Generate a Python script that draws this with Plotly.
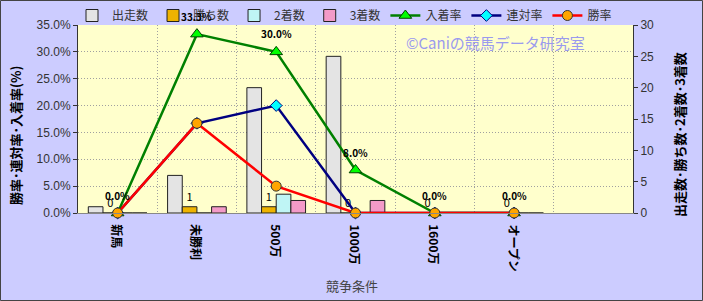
import plotly.graph_objects as go

categories = ['新馬', '未勝利', '500万', '1000万', '1600万', 'オープン']
runs = [1, 6, 20, 25, 0, 0]
wins = [0, 1, 1, 0, 0, 0]
seconds = [0, 0, 3, 0, 0, 0]
thirds = [0, 1, 2, 2, 0, 0]
place_rate = [0.0, 33.3, 30.0, 8.0, 0.0, 0.0]
rentai_rate = [0.0, 16.7, 20.0, 0.0, 0.0, 0.0]
win_rate = [0.0, 16.7, 5.0, 0.0, 0.0, 0.0]

FONT = "Noto Sans CJK JP"
W, H = 703, 301
ML, MR, MT, MB = 78, 70, 25, 88
PW, PH = W - ML - MR, H - MT - MB

fig = go.Figure()
bar_line = dict(color='#222222', width=1)
fig.add_trace(go.Bar(x=categories, y=runs, name='出走数', marker=dict(color='#E4E4E4', line=bar_line), yaxis='y'))
fig.add_trace(go.Bar(x=categories, y=wins, name='勝ち数', marker=dict(color='#EEB300', line=bar_line), yaxis='y',
                     text=[str(v) for v in wins], textposition='outside', cliponaxis=False,
                     textfont=dict(family=FONT, size=11, color='#000000')))
fig.add_trace(go.Bar(x=categories, y=seconds, name='2着数', marker=dict(color='#BFF5F5', line=bar_line), yaxis='y'))
fig.add_trace(go.Bar(x=categories, y=thirds, name='3着数', marker=dict(color='#F39AC8', line=bar_line), yaxis='y'))

fig.add_trace(go.Scatter(x=categories, y=place_rate, name='入着率', mode='lines+markers', yaxis='y2',
                         line=dict(color='#008000', width=2.5),
                         marker=dict(symbol='triangle-up', size=11, color='#00FF00', line=dict(color='#004000', width=1)),
                         cliponaxis=False))
fig.add_trace(go.Scatter(x=categories, y=rentai_rate, name='連対率', mode='lines+markers', yaxis='y2',
                         line=dict(color='#000080', width=2.5),
                         marker=dict(symbol='diamond', size=9, color='#00FFFF', line=dict(color='#000080', width=1)),
                         cliponaxis=False))
fig.add_trace(go.Scatter(x=categories, y=win_rate, name='勝率', mode='lines+markers', yaxis='y2',
                         line=dict(color='#FF0000', width=2.5),
                         marker=dict(symbol='circle', size=10, color='#FFA500', line=dict(color='#333333', width=1)),
                         cliponaxis=False))

fig.update_layout(
    width=W, height=H,
    margin=dict(l=ML, r=MR, t=MT, b=MB, autoexpand=False),
    paper_bgcolor='#CCCCFF', plot_bgcolor='#FFFFCC',
    font=dict(family=FONT, size=12, color='#333333'),
    barmode='group', bargap=0.26, bargroupgap=0,
    showlegend=True,
    legend=dict(orientation='h', x=(72 - ML) / PW, xanchor='left', y=1 + (MT - 1) / PH, yanchor='top',
                bgcolor='rgba(0,0,0,0)', font=dict(family=FONT, size=12, color='#333333'),
                itemwidth=30, tracegroupgap=0, traceorder='normal'),
    xaxis=dict(type='category', range=[-0.5, 6.5], tickson='boundaries', showticklabels=False,
               showgrid=True, gridcolor='#A0A0A0', griddash='1px,2px', gridwidth=1,
               ticks='', showline=True, linecolor='#888888', linewidth=1, automargin=False),
    yaxis=dict(side='right', range=[0, 30], dtick=5, showgrid=False, zeroline=False,
               ticks='outside', ticklen=4, tickcolor='#333333', showline=True, linecolor='#333333', linewidth=1,
               tickfont=dict(family='Liberation Sans', size=12, color='#333333'), automargin=False),
    yaxis2=dict(side='left', overlaying='y', range=[0, 35], dtick=5, ticksuffix='%', tickformat='.1f',
                showgrid=True, gridcolor='#A0A0A0', griddash='1px,2px', gridwidth=1, zeroline=False,
                ticks='outside', ticklen=4, tickcolor='#333333', showline=True, linecolor='#333333', linewidth=1,
                tickfont=dict(family='Liberation Sans', size=12, color='#333333'), automargin=False),
)

def px_x(p):
    return (p - ML) / PW

def px_y(p):
    return 1 - (p - MT) / PH

for c, v in zip(categories, place_rate):
    fig.add_annotation(text=f'{v:.1f}%', x=c, xref='x', y=v, yref='y2', xanchor='center', yanchor='middle',
                       yshift=18, showarrow=False,
                       font=dict(family=FONT, size=10, color='#000000', weight='bold'))

for c in categories:
    fig.add_annotation(text=c, x=c, xref='x', y=px_y(222), yref='paper', xanchor='center', yanchor='top',
                       textangle=90, showarrow=False, font=dict(family=FONT, size=12, color='#000000', weight='bold'))

fig.add_annotation(text='©Caniの競馬データ研究室', xref='paper', yref='paper', x=px_x(495), y=px_y(43),
                   xanchor='center', yanchor='middle',
                   showarrow=False, font=dict(family=FONT, size=15, color='#9A9AEE'))
fig.add_annotation(text='勝率･連対率･入着率(%)', xref='paper', yref='paper', x=px_x(15), y=px_y(136),
                   xanchor='center', yanchor='middle',
                   textangle=-90, showarrow=False, font=dict(family=FONT, size=13, color='#000000', weight='bold'))
fig.add_annotation(text='出走数･勝ち数･2着数･3着数', xref='paper', yref='paper', x=px_x(679), y=px_y(135),
                   xanchor='center', yanchor='middle',
                   textangle=-90, showarrow=False, font=dict(family=FONT, size=13, color='#000000', weight='bold'))
fig.add_annotation(text='競争条件', xref='paper', yref='paper', x=px_x(352), y=px_y(285),
                   xanchor='center', yanchor='middle',
                   showarrow=False, font=dict(family=FONT, size=13, color='#444444'))
fig.add_shape(type='rect', xref='paper', yref='paper', x0=px_x(0.5), x1=px_x(W - 0.5), y0=px_y(H - 0.5), y1=px_y(0.5),
              line=dict(color='#444444', width=1), fillcolor='rgba(0,0,0,0)', layer='above')

fig.write_html('out.html')
